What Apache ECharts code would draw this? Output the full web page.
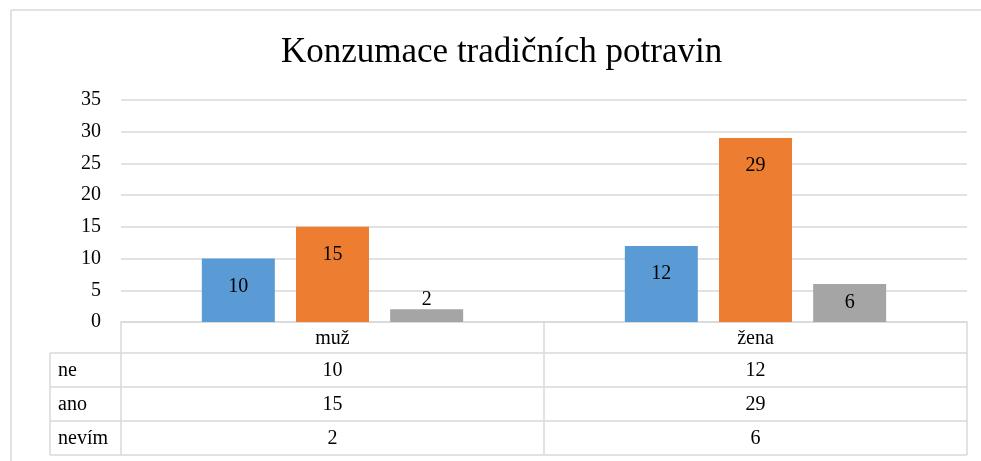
<!DOCTYPE html>
<html>
<head>
<meta charset="utf-8">
<script src="https://cdn.jsdelivr.net/npm/echarts@6/dist/echarts.min.js"></script>
<style>html,body{margin:0;padding:0;background:#fff;}#main{width:981px;height:461px;}</style>
</head>
<body>
<div id="main"></div>
<script>
var titleText = 'Konzumace tradičních potravin';
var categories = ['muž', 'žena'];
var seriesNames = ['ne', 'ano', 'nevím'];
var neValues = [10, 12];
var anoValues = [15, 29];
var nevimValues = [2, 6];
var yTicks = [0, 5, 10, 15, 20, 25, 30, 35];

var allValues = [neValues, anoValues, nevimValues];
var colors = ['#5B9BD5', '#ED7D31', '#A5A5A5'];
var FONT = '"Liberation Serif", "Times New Roman", serif';
var GRID_COLOR = '#D9D9D9';

var chart = echarts.init(document.getElementById('main'), null, {renderer: 'canvas'});

function labelFor(v) {
  if (v < 4) return {show: true, position: 'top', distance: 0};
  if (v < 8) return {show: true, position: 'inside'};
  return {show: true, position: 'insideTop', distance: 18};
}

var series = seriesNames.map(function (name, i) {
  return {
    name: name,
    type: 'bar',
    barWidth: 73,
    barGap: '29%',
    itemStyle: {color: colors[i]},
    label: {color: '#000', fontFamily: FONT, fontSize: 20},
    data: allValues[i].map(function (v) {
      return {value: v, label: labelFor(v)};
    })
  };
});

chart.setOption({
  animation: false,
  backgroundColor: '#fff',
  title: {
    text: titleText,
    left: 276,
    top: 30,
    textStyle: {fontFamily: FONT, fontSize: 35, fontWeight: 'normal', color: '#000'}
  },
  grid: {left: 121, right: 14, top: 100, bottom: 139, containLabel: false},
  xAxis: {
    type: 'category',
    data: categories,
    axisLine: {show: true, lineStyle: {color: GRID_COLOR, width: 1.5}},
    axisTick: {show: false},
    axisLabel: {show: false}
  },
  yAxis: {
    type: 'value',
    min: yTicks[0],
    max: yTicks[yTicks.length - 1],
    interval: yTicks[1] - yTicks[0],
    axisLine: {show: false},
    axisTick: {show: false},
    axisLabel: {color: '#000', fontFamily: FONT, fontSize: 20, margin: 20},
    splitLine: {lineStyle: {color: GRID_COLOR, width: 1.5}}
  },
  series: series
});

// Data table under the plot, positioned from the chart's own scale
function buildTable() {
  var x0 = chart.convertToPixel({xAxisIndex: 0}, 0);
  var x1 = chart.convertToPixel({xAxisIndex: 0}, 1);
  var bandW = x1 - x0;
  var left = x0 - bandW / 2;
  var right = x1 + bandW / 2;
  var mid = (left + right) / 2;
  var top = chart.convertToPixel({yAxisIndex: 0}, 0);
  var headerH = 31, rowH = 34;
  var labelLeft = 50;
  var bottom = top + headerH + rowH * seriesNames.length;
  var ls = {stroke: GRID_COLOR, lineWidth: 1.5};
  var g = [];
  function line(xa, ya, xb, yb) {
    g.push({type: 'line', silent: true, shape: {x1: xa, y1: ya, x2: xb, y2: yb}, style: ls});
  }
  // outer frame of the chart area
  line(11, 10, 981, 10);
  line(11, 10, 11, 461);
  // vertical lines
  line(left, top, left, bottom);
  line(mid, top, mid, bottom);
  line(right, top, right, bottom);
  line(labelLeft, top + headerH, labelLeft, bottom);
  // horizontal lines
  for (var r = 0; r <= seriesNames.length; r++) {
    var y = top + headerH + rowH * r;
    line(labelLeft, y, right, y);
  }
  function txt(s, x, y, align) {
    g.push({type: 'text', silent: true, x: x, y: y,
      style: {text: s, fill: '#000', font: '20px ' + FONT, align: align, verticalAlign: 'middle'}});
  }
  categories.forEach(function (c, ci) {
    var cx = chart.convertToPixel({xAxisIndex: 0}, ci);
    txt(c, cx, top + headerH / 2 + 1, 'center');
    allValues.forEach(function (vals, si) {
      txt(String(vals[ci]), cx, top + headerH + rowH * si + rowH / 2 + 1, 'center');
    });
  });
  seriesNames.forEach(function (n, si) {
    txt(n, labelLeft + 8, top + headerH + rowH * si + rowH / 2 + 1, 'left');
  });
  chart.setOption({graphic: {elements: g}});
}
buildTable();
</script>
</body>
</html>
